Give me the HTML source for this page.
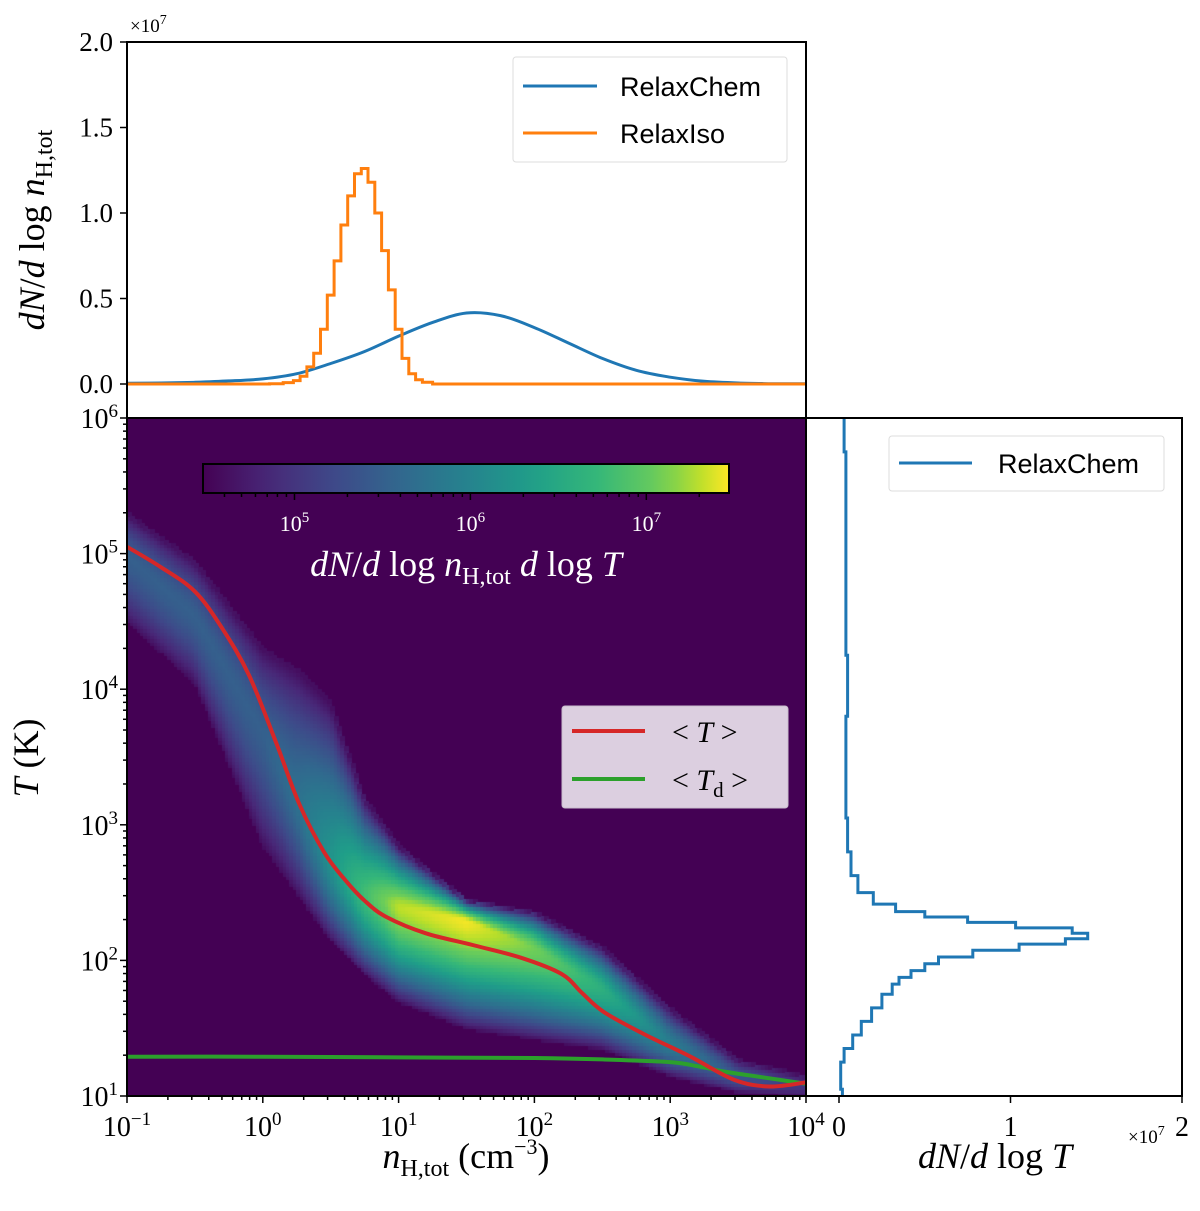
<!DOCTYPE html>
<html><head><meta charset="utf-8">
<style>
html,body{margin:0;padding:0;background:#fff;width:1200px;height:1211px;overflow:hidden}
#wrap{position:relative;width:1200px;height:1211px}
canvas{position:absolute;left:127px;top:418px}
svg{position:absolute;left:0;top:0}
text{font-family:"Liberation Serif",serif}
.sans{font-family:"Liberation Sans",sans-serif}
</style></head>
<body>
<div id="wrap">
<canvas id="hm" width="679" height="678"></canvas>
<svg id="svg" width="1200" height="1211" xmlns="http://www.w3.org/2000/svg"></svg>
</div>
<script>
// ---- data ----
const heatLogN = [-1,-0.5,0,0.25,0.5,0.75,1,1.5,2,2.5,3,3.5,4];
const heatCenter = [5.0,4.55,3.7,3.2,2.75,2.5,2.4,2.3,2.1,1.8,1.4,1.15,1.08];
const heatTop = [5.3,4.95,4.3,4.15,3.9,3.2,2.85,2.45,2.36,2.1,1.65,1.27,1.15];
const heatBot = [4.5,4.05,2.85,2.5,2.15,1.9,1.7,1.5,1.42,1.35,1.15,1.03,1.0];
const heatPeak = [5.5,5.5,5.5,5.7,6.2,6.8,7.3,7.45,7.1,6.6,5.9,5.4,5.0];

const meanTLogN = [-1,-0.75,-0.5,-0.3,-0.1,0.1,0.27,0.45,0.6,0.75,0.91,1.2,1.56,1.9,2.2,2.35,2.51,2.8,3.15,3.47,3.73,4.0];
const meanT = [5.05,4.9,4.72,4.45,4.1,3.6,3.15,2.8,2.6,2.44,2.32,2.2,2.11,2.02,1.9,1.76,1.62,1.46,1.29,1.12,1.07,1.1];
const meanTdLogN = [-1,0,1,2,2.5,3.0,3.2,3.4,3.6,3.8,4.0];
const meanTd = [1.29,1.29,1.285,1.28,1.27,1.25,1.22,1.18,1.15,1.12,1.09];

const blueLogN = [-1,-0.75,-0.5,-0.25,0,0.25,0.5,0.75,1.0,1.25,1.5,1.75,2.0,2.25,2.5,2.75,3.0,3.25,3.5,3.75,4.0];
const blueVal = [0.004,0.006,0.01,0.018,0.03,0.06,0.12,0.19,0.28,0.36,0.415,0.40,0.33,0.24,0.15,0.08,0.04,0.016,0.006,0.002,0.001];
const orangeLogN = [-1,-0.2,0,0.1,0.2,0.25,0.3,0.35,0.4,0.45,0.5,0.55,0.6,0.65,0.7,0.75,0.8,0.85,0.9,0.95,1.0,1.05,1.1,1.15,1.2,1.3,4.0];
const orangeVal = [0,0,0,0.001,0.008,0.02,0.045,0.1,0.18,0.32,0.52,0.72,0.93,1.1,1.23,1.26,1.18,1.0,0.78,0.55,0.32,0.15,0.06,0.025,0.01,0,0];

const rightLogT = [1.0,1.1,1.2,1.3,1.4,1.5,1.6,1.7,1.8,1.85,1.9,1.95,2.0,2.05,2.1,2.14,2.18,2.22,2.26,2.3,2.34,2.38,2.45,2.55,2.7,2.9,3.2,3.6,4.0,4.5,5.0,5.5,6.0];
const rightVal = [0.02,0.01,0.01,0.03,0.08,0.13,0.19,0.25,0.31,0.35,0.42,0.5,0.58,0.78,1.05,1.32,1.45,1.36,1.03,0.75,0.5,0.33,0.2,0.11,0.07,0.05,0.04,0.04,0.05,0.04,0.04,0.04,0.03];

const xTickExp = [-1,0,1,2,3,4];
const yTickExp = [1,2,3,4,5,6];
const topTicks = ["0.0","0.5","1.0","1.5","2.0"];
const rightTicks = ["0","1","2"];
const cbTickExp = [5,6,7];

// ---- scales ----
const X0=127,X1=806,TOP0=42,TOP1=418,MAIN1=1096,R0=806,R1=1182;
const xs = v => X0 + (v+1)/5*(X1-X0);
const ys = v => MAIN1 - (v-1)/5*(MAIN1-418);
const yTop = v => 384 - v/2.0*(384-TOP0);
const xRight = v => 839 + v*(1182-839)/2.0;
const CBL=203,CBR=729,CBV0=4.48,CBV1=7.47;
const cbx = v => CBL + (v-CBV0)/(CBV1-CBV0)*(CBR-CBL);

const vir=[[0,[68,1,84]],[.125,[72,40,120]],[.25,[62,73,137]],[.375,[49,104,142]],[.5,[38,130,142]],[.625,[31,158,137]],[.75,[53,183,121]],[.875,[110,206,88]],[.9375,[181,222,43]],[1,[253,231,37]]];
function viridis(t){t=Math.max(0,Math.min(1,t));for(let i=1;i<vir.length;i++){if(t<=vir[i][0]){const a=vir[i-1],b=vir[i];const f=(t-a[0])/(b[0]-a[0]);return a[1].map((c,k)=>Math.round(c+f*(b[1][k]-c)));}}return vir[vir.length-1][1];}
function lerpArr(xa,ya,x){if(x<=xa[0])return ya[0];for(let i=1;i<xa.length;i++){if(x<=xa[i]){const f=(x-xa[i-1])/(xa[i]-xa[i-1]);return ya[i-1]+f*(ya[i]-ya[i-1]);}}return ya[ya.length-1];}

// ---- heatmap ----
const cv=document.getElementById('hm'),ctx=cv.getContext('2d');
ctx.fillStyle='rgb(68,1,84)';ctx.fillRect(0,0,679,678);
const bw=0.025;
for(let ln=-1;ln<4;ln+=bw){
  const m=ln+bw/2;
  const c=lerpArr(heatLogN,heatCenter,m),tp=lerpArr(heatLogN,heatTop,m),bt=lerpArr(heatLogN,heatBot,m),pk=lerpArr(heatLogN,heatPeak,m);
  for(let lt=1;lt<6;lt+=bw){
    const d=lt+bw/2-c;const w=d>0?(tp-c):(c-bt);
    const r=Math.abs(d)/Math.max(w,0.01);
    if(r>1)continue;
    const v=pk-(pk-4.6)*Math.pow(r,1.6);
    const col=viridis((v-CBV0)/(CBV1-CBV0));
    ctx.fillStyle=`rgb(${col[0]},${col[1]},${col[2]})`;
    const px=xs(ln)-X0,py=ys(lt+bw)-418;
    ctx.fillRect(Math.floor(px),Math.floor(py),Math.ceil(xs(ln+bw)-xs(ln))+1,Math.ceil(ys(lt)-ys(lt+bw))+1);
  }
}

// ---- svg ----
const svg=document.getElementById('svg');const NS='http://www.w3.org/2000/svg';
function el(tag,attrs,parent){const e=document.createElementNS(NS,tag);for(const k in attrs)e.setAttribute(k,attrs[k]);(parent||svg).appendChild(e);return e;}
function txt(x,y,s,size,anchor,fill,cls){const t=el('text',{x:x,y:y,'font-size':size,'text-anchor':anchor||'middle',fill:fill||'#000'});if(cls)t.setAttribute('class',cls);t.innerHTML=s;return t;}

// colorbar
const defs=el('defs',{});const lg=el('linearGradient',{id:'cbg',x1:0,x2:1,y1:0,y2:0},defs);
for(let i=0;i<=20;i++){const c=viridis(i/20);el('stop',{offset:i/20,'stop-color':`rgb(${c[0]},${c[1]},${c[2]})`},lg);}
const cb=el('rect',{x:CBL,y:464,width:CBR-CBL,height:29,fill:'url(#cbg)',stroke:'#000','stroke-width':2});


for(let e=4;e<=7;e++){for(let m=1;m<10;m++){const v=e+Math.log10(m);if(v<CBV0||v>CBV1)continue;el('line',{x1:cbx(v),x2:cbx(v),y1:493,y2:m==1?500:497,stroke:'#000','stroke-width':1.5});}}
cbTickExp.forEach(e=>{const t=txt(cbx(e),531,`10<tspan dy="-9" font-size="15">${e}</tspan>`,22,'middle','#fff');

});
const cbl=txt(466,576,'<tspan font-style="italic">dN</tspan>/<tspan font-style="italic">d</tspan> log <tspan font-style="italic">n</tspan><tspan font-size="24" dy="8">H,tot</tspan><tspan dy="-8"> </tspan><tspan font-style="italic">d</tspan> log <tspan font-style="italic">T</tspan>',36,'middle','#fff');



// smooth curve helper (catmull-rom through data points)
function smoothPath(xa,ya,fx,fy){const p=xa.map((v,i)=>[fx(v),fy(ya[i])]);let d=`M${p[0][0].toFixed(1)},${p[0][1].toFixed(1)}`;for(let i=0;i<p.length-1;i++){const p0=p[i-1]||p[i],p1=p[i],p2=p[i+1],p3=p[i+2]||p2;const c1=[p1[0]+(p2[0]-p0[0])/6,p1[1]+(p2[1]-p0[1])/6],c2=[p2[0]-(p3[0]-p1[0])/6,p2[1]-(p3[1]-p1[1])/6];d+=`C${c1[0].toFixed(1)},${c1[1].toFixed(1)} ${c2[0].toFixed(1)},${c2[1].toFixed(1)} ${p2[0].toFixed(1)},${p2[1].toFixed(1)}`;}return d;}
const clip=el('clipPath',{id:'mc'},defs);el('rect',{x:X0,y:418,width:X1-X0,height:678},clip);
const g=el('g',{'clip-path':'url(#mc)'});
const gl=el('path',{d:smoothPath(meanTdLogN,meanTd,xs,ys),fill:'none',stroke:'#2ca02c','stroke-width':4},g);


const rl=el('path',{d:smoothPath(meanTLogN,meanT,xs,ys),fill:'none',stroke:'#d62728','stroke-width':4,'stroke-linejoin':'round'},g);



// main legend
const ml=el('g',{});
el('rect',{x:562,y:706,width:226,height:102,rx:3,fill:'#dccfe0',stroke:'#c8bccc'},ml);
el('line',{x1:572,x2:645,y1:731,y2:731,stroke:'#d62728','stroke-width':4},ml);
el('line',{x1:572,x2:645,y1:779,y2:779,stroke:'#2ca02c','stroke-width':4},ml);
txt(672,742,'&lt; <tspan font-style="italic">T</tspan> &gt;',30,'start','#000');
txt(672,790,'&lt; <tspan font-style="italic">T</tspan><tspan font-size="21" dy="7">d</tspan><tspan dy="-7"> &gt;</tspan>',30,'start','#000');

// top panel histograms
function stepPath(xa,ya,fx,fy){let d='';for(let i=0;i<xa.length;i++){const l=i==0?xa[0]:(xa[i-1]+xa[i])/2,r=i==xa.length-1?xa[i]:(xa[i]+xa[i+1])/2;d+=(i==0?'M':'L')+fx(l).toFixed(1)+','+fy(ya[i]).toFixed(1)+'L'+fx(r).toFixed(1)+','+fy(ya[i]).toFixed(1);}return d;}
const bl=el('path',{d:smoothPath(blueLogN,blueVal,xs,yTop),fill:'none',stroke:'#1f77b4','stroke-width':3});


const ol=el('path',{d:stepPath(orangeLogN,orangeVal,xs,yTop),fill:'none',stroke:'#ff7f0e','stroke-width':3});



// right histogram (vertical steps)
const rp=el('path',{fill:'none',stroke:'#1f77b4','stroke-width':3});
(function(){let d='';for(let i=0;i<rightLogT.length;i++){const lo=i==0?rightLogT[0]:(rightLogT[i-1]+rightLogT[i])/2,hi=i==rightLogT.length-1?rightLogT[i]:(rightLogT[i]+rightLogT[i+1])/2;const x=xRight(rightVal[i]).toFixed(1);d+=(i==0?'M':'L')+x+','+ys(lo).toFixed(1)+'L'+x+','+ys(hi).toFixed(1);}rp.setAttribute('d',d);})();



// frames
[[X0,TOP0,X1-X0,TOP1-TOP0,'top-panel-frame'],[X0,418,X1-X0,678,'main-panel-frame'],[R0,418,R1-R0,678,'right-panel-frame']].forEach(f=>{const r=el('rect',{x:f[0],y:f[1],width:f[2],height:f[3],fill:'none',stroke:'#000','stroke-width':2});

});

// top legend
const tl=el('g',{});
el('rect',{x:513,y:57,width:274,height:105,rx:3,fill:'#fff',stroke:'#ddd'},tl);
el('line',{x1:523,x2:597,y1:86,y2:86,stroke:'#1f77b4','stroke-width':3},tl);
el('line',{x1:523,x2:597,y1:133,y2:133,stroke:'#ff7f0e','stroke-width':3},tl);
txt(620,96,'RelaxChem',27,'start','#000','sans');txt(620,143,'RelaxIso',27,'start','#000','sans');
// right legend
const rlg=el('g',{});
el('rect',{x:889,y:436,width:275,height:55,rx:3,fill:'#fff',stroke:'#ddd'},rlg);
el('line',{x1:899,x2:972,y1:463,y2:463,stroke:'#1f77b4','stroke-width':3},rlg);
txt(998,473,'RelaxChem',27,'start','#000','sans');

// ticks main x
for(let e=-1;e<=4;e++){for(let m=1;m<10;m++){const v=e+Math.log10(m);if(v>4)break;el('line',{x1:xs(v),x2:xs(v),y1:1096,y2:m==1?1103:1100,stroke:'#000','stroke-width':1.5});}}
xTickExp.forEach(e=>{const t=txt(xs(e),1136,`10<tspan dy="-11" font-size="19">${e<0?'−':''}${Math.abs(e)}</tspan>`,28,'middle');

});
// main y
for(let e=1;e<=6;e++){for(let m=1;m<10;m++){const v=e+Math.log10(m);if(v>6)break;el('line',{x1:X0,x2:X0-(m==1?7:4),y1:ys(v),y2:ys(v),stroke:'#000','stroke-width':1.5});}}
yTickExp.forEach(e=>{const t=txt(118,ys(e)+10,`10<tspan dy="-11" font-size="19">${e}</tspan>`,28,'end');

});
// top y
topTicks.forEach(s=>{const v=parseFloat(s);el('line',{x1:X0,x2:X0-7,y1:yTop(v),y2:yTop(v),stroke:'#000','stroke-width':1.5});const t=txt(113,yTop(v)+9,s,27,'end');

});
txt(130,32,'×10<tspan dy="-8" font-size="14">7</tspan>',19,'start');
// right x
rightTicks.forEach(s=>{const v=parseFloat(s);el('line',{x1:xRight(v),x2:xRight(v),y1:1096,y2:1103,stroke:'#000','stroke-width':1.5});const t=txt(xRight(v),1136,s,28,'middle');

});
txt(1128,1143,'×10<tspan dy="-8" font-size="14">7</tspan>',19,'start');

// axis titles
const xt=txt(466,1168,'<tspan font-style="italic">n</tspan><tspan font-size="24" dy="8">H,tot</tspan><tspan dy="-8"> (cm</tspan><tspan font-size="22" dy="-14">−3</tspan><tspan dy="14">)</tspan>',36,'middle');

const rt=txt(995,1168,'<tspan font-style="italic">dN</tspan>/<tspan font-style="italic">d</tspan> log <tspan font-style="italic">T</tspan>',36,'middle');

const yt=txt(0,0,'<tspan font-style="italic">T</tspan> (K)',36,'middle');yt.setAttribute('transform','translate(38,758) rotate(-90)');

const tt=txt(0,0,'<tspan font-style="italic">dN</tspan>/<tspan font-style="italic">d</tspan> log <tspan font-style="italic">n</tspan><tspan font-size="24" dy="8">H,tot</tspan>',36,'middle');tt.setAttribute('transform','translate(44,230) rotate(-90)');

</script>
</body></html>
